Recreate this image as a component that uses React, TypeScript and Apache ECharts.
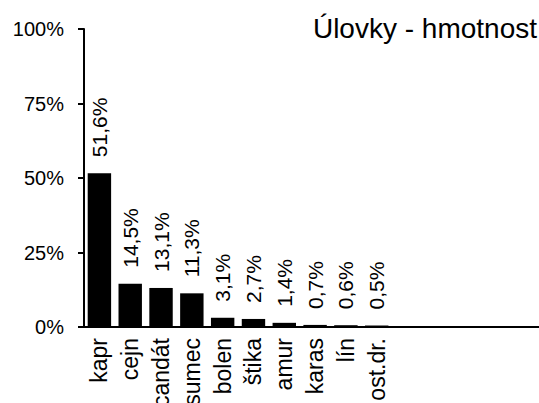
import React, { useEffect, useRef } from "react";
import * as echarts from "echarts";

const TITLE = "Úlovky - hmotnost";
const categories = ["kapr", "cejn", "candát", "sumec", "bolen", "štika", "amur", "karas", "lín", "ost.dr."];
const values = [51.6, 14.5, 13.1, 11.3, 3.1, 2.7, 1.4, 0.7, 0.6, 0.5];
const emptySlots = 6;
const yTicks = [0, 25, 50, 75, 100];

const FONT = "Liberation Sans";

export default function App() {
  const ref = useRef<HTMLDivElement>(null);
  useEffect(() => {
    document.body.style.margin = "0";
    const chart = echarts.init(ref.current!, null, { renderer: "svg" });
    const cats = categories.concat(Array(emptySlots).fill(""));
    const data = values.concat(Array(emptySlots).fill(null) as any);
    chart.setOption({
      animation: false,
      textStyle: { fontFamily: FONT },
      title: {
        text: TITLE,
        right: 2,
        top: 14,
        padding: 0,
        textStyle: { fontFamily: FONT, fontSize: 28, fontWeight: "normal", color: "#000" },
      },
      grid: { left: 84, right: -38, top: 29, bottom: 76, containLabel: false, outerBoundsMode: "none" },
      xAxis: {
        type: "category",
        data: cats,
        axisLine: { lineStyle: { color: "#000", width: 2 } },
        axisTick: { show: false },
        axisLabel: { rotate: 90, margin: 11, fontSize: 23, color: "#000", fontFamily: FONT, interval: 0 },
      },
      yAxis: {
        type: "value",
        min: yTicks[0],
        max: yTicks[yTicks.length - 1],
        interval: 25,
        axisLine: { show: true, lineStyle: { color: "#000", width: 2 } },
        axisTick: { show: true, length: 6, lineStyle: { color: "#000", width: 2 } },
        splitLine: {
          show: true,
          lineStyle: { color: ["#000", "rgba(0,0,0,0)", "rgba(0,0,0,0)", "rgba(0,0,0,0)", "rgba(0,0,0,0)"], width: 2 },
        },
        axisLabel: { formatter: "{value}%", margin: 20, fontSize: 20, color: "#000", fontFamily: FONT },
      },
      series: [
        {
          type: "bar",
          data,
          barCategoryGap: "24%",
          itemStyle: { color: "#000" },
          z: 3,
          label: {
            show: true,
            position: "top",
            rotate: 90,
            align: "left",
            verticalAlign: "middle",
            distance: 16,
            fontSize: 21,
            color: "#000",
            fontFamily: FONT,
            formatter: (p: any) => String(p.value).replace(".", ",") + "%",
          },
        },
      ],
    });
    return () => chart.dispose();
  }, []);
  return <div ref={ref} style={{ width: 539, height: 403 }} />;
}
